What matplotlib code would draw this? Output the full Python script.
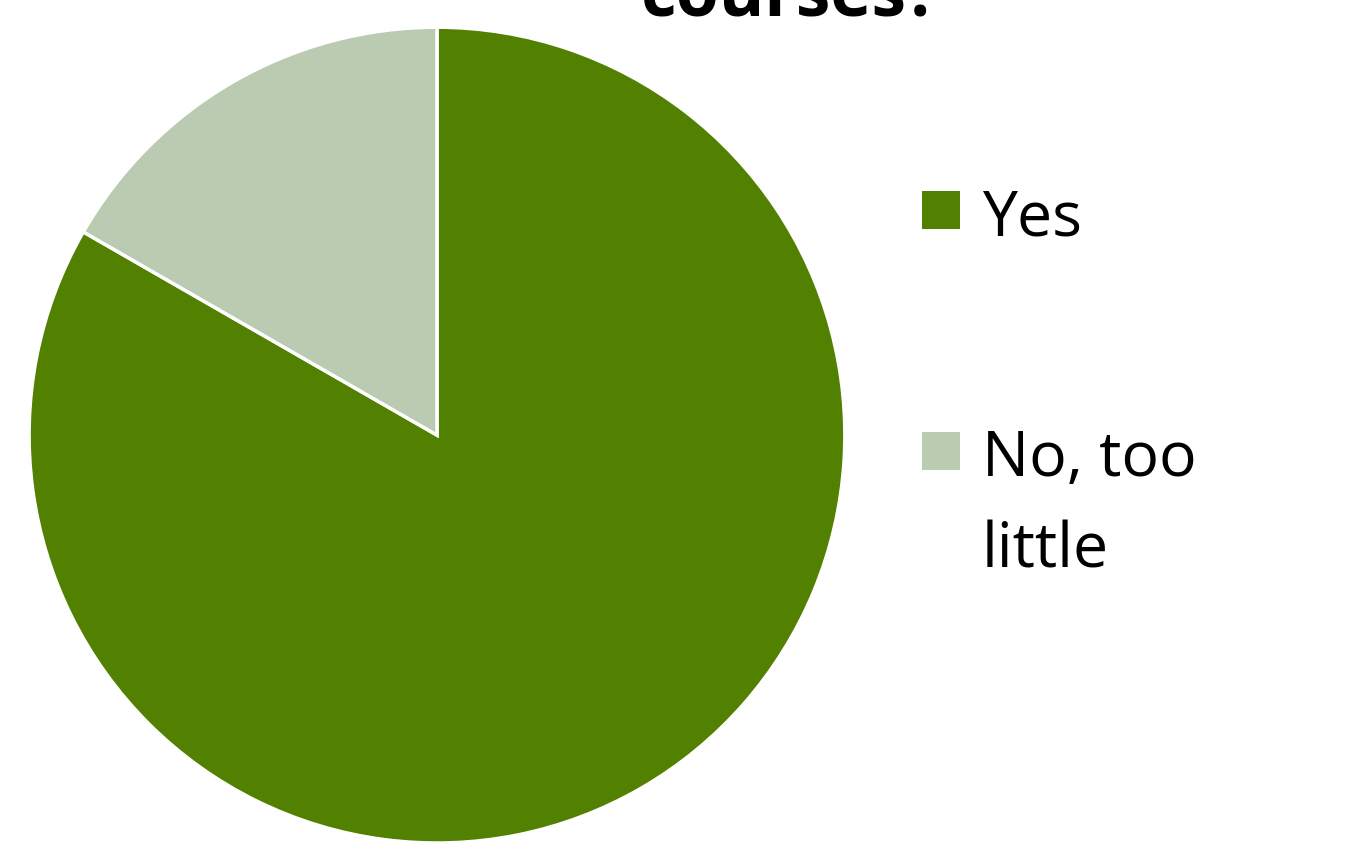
import matplotlib.pyplot as plt
from matplotlib.patches import Rectangle

# Pie data
labels = ["Yes", "No, too\nlittle"]
shares = [83.3, 16.7]
colors = ["#528000", "#BACBB2"]
title_tail = "courses?"

fig = plt.figure(figsize=(13.47, 8.48), dpi=100)

# Pie axes placed to match the reference
ax = fig.add_axes([0.0215, 0.0059, 0.6058, 0.962])
ax.pie(shares, colors=colors, startangle=90, counterclock=False,
       wedgeprops=dict(edgecolor="white", linewidth=2.5))
ax.set_xlim(-1, 1)
ax.set_ylim(-1, 1)
ax.set_aspect("equal")

# Title, only its last line is visible in the frame
fig.text(0.587, 0.982, title_tail, ha="center", va="baseline",
         fontsize=50, fontweight="bold", family="Open Sans")

# Legend drawn by hand: square markers with labels to the right
legend_y = [1 - 210 / 848, 1 - 451 / 848]
for lab, col, y in zip(labels, colors, legend_y):
    fig.patches.append(Rectangle((922 / 1347, y - 19 / 848), 38 / 1347, 38 / 848,
                                 transform=fig.transFigure, facecolor=col,
                                 edgecolor="none"))
    fig.text(982 / 1347, y + 22 / 848, lab, ha="left", va="top",
             fontsize=45, family="Open Sans", linespacing=1.6)

fig.savefig("out.png", dpi=100)
